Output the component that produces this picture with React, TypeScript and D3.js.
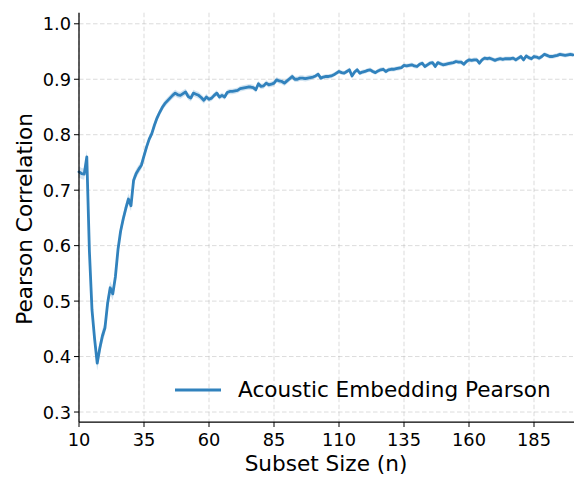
import React from "react";
import * as d3 from "d3";

const subsetSizes: number[] = d3.range(10, 201);

const pearsonMean: number[] = [
  // 10-19
  0.733, 0.730, 0.729, 0.760, 0.590, 0.484, 0.432, 0.388, 0.415, 0.437,
  // 20-29
  0.452, 0.496, 0.524, 0.513, 0.544, 0.593, 0.626, 0.648, 0.667, 0.684,
  // 30-39
  0.672, 0.718, 0.730, 0.738, 0.745, 0.762, 0.778, 0.792, 0.802, 0.817,
  // 40-49
  0.830, 0.840, 0.849, 0.856, 0.861, 0.866, 0.871, 0.875, 0.872, 0.871,
  // 50-59
  0.874, 0.877, 0.869, 0.866, 0.875, 0.873, 0.871, 0.867, 0.862, 0.868,
  // 60-69
  0.864, 0.866, 0.871, 0.875, 0.868, 0.871, 0.868, 0.876, 0.878, 0.878,
  // 70-79
  0.879, 0.880, 0.883, 0.884, 0.885, 0.886, 0.886, 0.885, 0.881, 0.892,
  // 80-89
  0.887, 0.888, 0.893, 0.890, 0.891, 0.893, 0.899, 0.897, 0.896, 0.893,
  // 90-99
  0.897, 0.901, 0.905, 0.900, 0.900, 0.902, 0.902, 0.901, 0.902, 0.903,
  // 100-109
  0.904, 0.906, 0.909, 0.902, 0.904, 0.905, 0.905, 0.906, 0.908, 0.911,
  // 110-119
  0.914, 0.912, 0.911, 0.914, 0.917, 0.906, 0.913, 0.917, 0.911, 0.913,
  // 120-129
  0.914, 0.916, 0.917, 0.914, 0.912, 0.915, 0.917, 0.918, 0.914, 0.917,
  // 130-139
  0.918, 0.918, 0.919, 0.920, 0.921, 0.925, 0.924, 0.925, 0.926, 0.924,
  // 140-149
  0.923, 0.927, 0.929, 0.923, 0.926, 0.929, 0.930, 0.923, 0.930, 0.928,
  // 150-159
  0.926, 0.927, 0.928, 0.929, 0.930, 0.932, 0.931, 0.931, 0.927, 0.932,
  // 160-169
  0.935, 0.934, 0.935, 0.935, 0.929, 0.935, 0.938, 0.937, 0.938, 0.936,
  // 170-179
  0.934, 0.936, 0.937, 0.936, 0.937, 0.937, 0.937, 0.938, 0.935, 0.938,
  // 180-189
  0.941, 0.935, 0.942, 0.939, 0.937, 0.941, 0.940, 0.938, 0.941, 0.945,
  // 190-200
  0.943, 0.941, 0.941, 0.942, 0.943, 0.945, 0.944, 0.943, 0.944, 0.945, 0.944,
];

const bandHalfWidth: number[] = [
  0.010, 0.010, 0.010, 0.012, 0.015, 0.015, 0.014, 0.013, 0.012, 0.012,
  0.012, 0.012, 0.012, 0.011, 0.010, 0.010, 0.010, 0.010, 0.010, 0.010,
  0.010, 0.009, 0.008, 0.008, 0.007, 0.007, 0.007, 0.006, 0.006, 0.006,
  0.006, 0.006, 0.006, 0.006, 0.006, 0.006, 0.006, 0.006, 0.006, 0.006,
  0.006, 0.006, 0.006, 0.006, 0.006, 0.006, 0.006, 0.006, 0.006, 0.006,
  0.005, 0.005, 0.005, 0.005, 0.005, 0.005, 0.005, 0.005, 0.005, 0.005,
  0.005, 0.005, 0.005, 0.005, 0.005, 0.005, 0.005, 0.005, 0.005, 0.005,
  0.005, 0.005, 0.005, 0.005, 0.005, 0.005, 0.005, 0.005, 0.005, 0.005,
  0.005, 0.005, 0.005, 0.005, 0.005, 0.005, 0.005, 0.005, 0.005, 0.005,
  0.004, 0.004, 0.004, 0.004, 0.004, 0.004, 0.004, 0.004, 0.004, 0.004,
  0.004, 0.004, 0.004, 0.004, 0.004, 0.004, 0.004, 0.004, 0.004, 0.004,
  0.004, 0.004, 0.004, 0.004, 0.004, 0.004, 0.004, 0.004, 0.004, 0.004,
  0.004, 0.004, 0.004, 0.004, 0.004, 0.004, 0.004, 0.004, 0.004, 0.004,
  0.004, 0.004, 0.004, 0.004, 0.004, 0.004, 0.004, 0.004, 0.004, 0.004,
  0.004, 0.004, 0.004, 0.004, 0.004, 0.004, 0.004, 0.004, 0.004, 0.004,
  0.004, 0.004, 0.004, 0.004, 0.004, 0.004, 0.004, 0.004, 0.004, 0.004,
  0.004, 0.004, 0.004, 0.004, 0.004, 0.004, 0.004, 0.004, 0.004, 0.004,
  0.004, 0.004, 0.004, 0.004, 0.004, 0.004, 0.004, 0.004, 0.004, 0.004,
  0.004, 0.004, 0.004, 0.004, 0.004, 0.004, 0.004, 0.004, 0.004, 0.004, 0.004,
];

const xTicks: number[] = [10, 35, 60, 85, 110, 135, 160, 185];
const yTicks: number[] = [0.3, 0.4, 0.5, 0.6, 0.7, 0.8, 0.9, 1.0];
const seriesName = "Acoustic Embedding Pearson";
const xLabel = "Subset Size (n)";
const yLabel = "Pearson Correlation";

const W = 574;
const H = 478;
const left = 79;
const right = 573;
const top = 12.7;
const bottom = 422;
const color = "#3182bd";
const font = "DejaVu Sans, sans-serif";
const tickFont = 17.8;
const labelFont = 21.6;

export default function App() {
  const x = d3.scaleLinear().domain([10, 200]).range([left, right]);
  const y = d3.scaleLinear().domain([0.282, 1.02]).range([bottom, top]);

  const pts = subsetSizes.map((n, i) => ({
    n,
    m: pearsonMean[i],
    b: bandHalfWidth[i],
  }));

  const line = d3
    .line<{ n: number; m: number; b: number }>()
    .x((d) => x(d.n))
    .y((d) => y(d.m));
  const area = d3
    .area<{ n: number; m: number; b: number }>()
    .x((d) => x(d.n))
    .y0((d) => y(d.m - d.b))
    .y1((d) => y(d.m + d.b));

  return (
    <svg
      width={W}
      height={H}
      style={{ position: "absolute", left: 0, top: 0, background: "#fff" }}
      fontFamily={font}
    >
      <rect x={0} y={0} width={W} height={H} fill="#fff" />
      {/* grid */}
      <g stroke="#b0b0b0" strokeOpacity={0.5} strokeWidth={0.9} strokeDasharray="4.5,2.5">
        {xTicks.map((t) => (
          <line key={"gx" + t} x1={x(t)} x2={x(t)} y1={top} y2={bottom} />
        ))}
        {yTicks.map((t) => (
          <line key={"gy" + t} x1={left} x2={right} y1={y(t)} y2={y(t)} />
        ))}
      </g>
      {/* band + line */}
      <path d={area(pts) || ""} fill={color} fillOpacity={0.22} />
      <path
        d={line(pts) || ""}
        fill="none"
        stroke={color}
        strokeWidth={2.8}
        strokeLinejoin="round"
        strokeLinecap="round"
      />
      {/* axes */}
      <line x1={left} x2={left} y1={top} y2={bottom} stroke="#000" strokeWidth={1.25} />
      <line x1={left} x2={right + 1} y1={bottom} y2={bottom} stroke="#000" strokeWidth={1.25} />
      {yTicks.map((t) => (
        <g key={"yt" + t}>
          <line x1={left - 5} x2={left} y1={y(t)} y2={y(t)} stroke="#000" strokeWidth={1} />
          <text
            x={left - 8}
            y={y(t) + 0.365 * tickFont}
            textAnchor="end"
            fontSize={tickFont}
            fill="#000"
          >
            {t.toFixed(1)}
          </text>
        </g>
      ))}
      {xTicks.map((t) => (
        <g key={"xt" + t}>
          <line x1={x(t)} x2={x(t)} y1={bottom} y2={bottom + 5} stroke="#000" strokeWidth={1} />
          <text x={x(t)} y={446} textAnchor="middle" fontSize={tickFont} fill="#000">
            {t}
          </text>
        </g>
      ))}
      <text x={(left + right) / 2} y={471} textAnchor="middle" fontSize={labelFont} fill="#000">
        {xLabel}
      </text>
      <text
        transform={`translate(31.5, ${219}) rotate(-90)`}
        textAnchor="middle"
        fontSize={labelFont}
        fill="#000"
      >
        {yLabel}
      </text>
      {/* legend */}
      <line x1={175} x2={221} y1={390} y2={390} stroke={color} strokeWidth={2.8} />
      <text x={238} y={397.3} fontSize={labelFont} fill="#000">
        {seriesName}
      </text>
    </svg>
  );
}
